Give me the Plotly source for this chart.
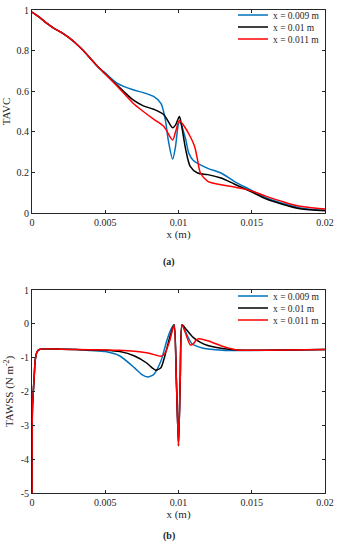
import plotly.graph_objects as go

# ---------------- data: panel (a) TAVC ----------------
tavc_blue_x = [0, 0.0005, 0.001, 0.0015, 0.002, 0.0025, 0.003, 0.0035, 0.004, 0.0045, 0.005,
               0.0058, 0.0069, 0.0076, 0.0083, 0.0088, 0.0091, 0.0093, 0.0096, 0.0098, 0.01, 0.0101,
               0.0105, 0.0107, 0.011, 0.012, 0.0129, 0.0138, 0.0149, 0.016, 0.0172, 0.0183, 0.02]
tavc_blue_y = [0.99, 0.965, 0.935, 0.91, 0.89, 0.865, 0.835, 0.80, 0.76, 0.72, 0.69,
               0.64, 0.607, 0.593, 0.574, 0.54, 0.46, 0.36, 0.266, 0.33, 0.44, 0.45,
               0.36, 0.295, 0.26, 0.22, 0.197, 0.156, 0.115, 0.074, 0.046, 0.025, 0.013]

tavc_black_x = [0, 0.0005, 0.001, 0.0015, 0.002, 0.0025, 0.003, 0.0035, 0.004, 0.0045, 0.005,
                0.0058, 0.0069, 0.0076, 0.0083, 0.009, 0.0096, 0.0098, 0.01006, 0.0102,
                0.0105, 0.0108, 0.0113, 0.012, 0.0129, 0.0138, 0.0149, 0.016, 0.0172, 0.0183, 0.02]
tavc_black_y = [0.99, 0.965, 0.935, 0.91, 0.89, 0.865, 0.835, 0.80, 0.76, 0.72, 0.685,
                0.63, 0.557, 0.528, 0.511, 0.484, 0.42, 0.434, 0.475, 0.434,
                0.31, 0.23, 0.197, 0.189, 0.172, 0.143, 0.107, 0.069, 0.041, 0.021, 0.011]

tavc_red_x = [0, 0.0005, 0.001, 0.0015, 0.002, 0.0025, 0.003, 0.0035, 0.004, 0.0045, 0.005,
              0.0058, 0.0069, 0.0076, 0.0083, 0.009, 0.0096, 0.0098, 0.01006, 0.0104,
              0.0108, 0.0111, 0.0113, 0.0115, 0.012, 0.0129, 0.0138, 0.0149, 0.016, 0.0172, 0.0183, 0.02]
tavc_red_y = [0.99, 0.965, 0.935, 0.91, 0.89, 0.865, 0.835, 0.80, 0.76, 0.72, 0.685,
              0.626, 0.541, 0.50, 0.462, 0.426, 0.36, 0.40, 0.455, 0.426,
              0.377, 0.328, 0.262, 0.197, 0.156, 0.139, 0.128, 0.111, 0.082, 0.054, 0.033, 0.02]

# ---------------- data: panel (b) TAWSS ----------------
wss_blue_x = [0, 0.00003, 0.00015, 0.00022, 0.00035, 0.00055, 0.002, 0.003, 0.004, 0.005, 0.006,
              0.007, 0.0075, 0.0079, 0.0083, 0.0088, 0.0092, 0.0095, 0.0097,
              0.00985, 0.01, 0.01012, 0.01024, 0.0105, 0.0109, 0.0117, 0.013, 0.014, 0.016, 0.018, 0.02]
wss_blue_y = [-5, -2.5, -1.56, -1.07, -0.82, -0.75, -0.75, -0.76, -0.79, -0.82, -0.95,
              -1.3, -1.5, -1.57, -1.5, -1.1, -0.5, -0.15, -0.03,
              -1.6, -3.6, -1.6, -0.03, -0.25, -0.58, -0.72, -0.78, -0.79, -0.78, -0.77, -0.76]

wss_black_x = [0, 0.00003, 0.00015, 0.00022, 0.00035, 0.00055, 0.002, 0.003, 0.005, 0.006,
               0.007, 0.0078, 0.0082, 0.00845, 0.0088, 0.0091, 0.0094, 0.0097,
               0.00985, 0.01, 0.01012, 0.01024, 0.0105, 0.011, 0.0115, 0.012, 0.013, 0.014, 0.016, 0.02]
wss_black_y = [-5, -2.5, -1.56, -1.07, -0.82, -0.75, -0.75, -0.76, -0.78, -0.82,
               -0.95, -1.15, -1.3, -1.37, -1.3, -0.9, -0.4, -0.03,
               -1.6, -3.6, -1.6, -0.03, -0.15, -0.4, -0.55, -0.64, -0.73, -0.77, -0.78, -0.76]

wss_red_x = [0, 0.00003, 0.00015, 0.00022, 0.00035, 0.00055, 0.002, 0.003, 0.005, 0.006,
             0.007, 0.008, 0.0085, 0.0088, 0.0091, 0.0094, 0.0097,
             0.00985, 0.01, 0.01012, 0.01024, 0.0105, 0.0108, 0.0110, 0.0112, 0.0114,
             0.012, 0.013, 0.014, 0.016, 0.02]
wss_red_y = [-5, -2.5, -1.56, -1.07, -0.82, -0.75, -0.75, -0.76, -0.77, -0.78,
             -0.81, -0.87, -0.93, -0.96, -0.85, -0.5, -0.03,
             -1.6, -3.6, -1.6, -0.03, -0.3, -0.62, -0.6, -0.48, -0.44,
             -0.5, -0.66, -0.77, -0.78, -0.76]

series_names = ["x = 0.009 m", "x = 0.01 m", "x = 0.011 m"]
series_colors = ["#0072BD", "#000000", "#FF0000"]

x_tickvals = [0, 0.005, 0.01, 0.015, 0.02]
x_ticktext = ["0", "0.005", "0.01", "0.015", "0.02"]
tavc_tickvals = [0, 0.2, 0.4, 0.6, 0.8, 1]
tavc_ticktext = ["0", "0.2", "0.4", "0.6", "0.8", "1"]
wss_tickvals = [-5, -4, -3, -2, -1, 0, 1]
wss_ticktext = ["-5", "-4", "-3", "-2", "-1", "0", "1"]

FONT = "Liberation Serif, Times New Roman, serif"
TXT = "#262626"

W, H = 338, 550
def py(p):
    return 1 - p / H

fig = go.Figure()

top = [(tavc_blue_x, tavc_blue_y), (tavc_black_x, tavc_black_y), (tavc_red_x, tavc_red_y)]
bot = [(wss_blue_x, wss_blue_y), (wss_black_x, wss_black_y), (wss_red_x, wss_red_y)]

legend_rows_top = [15, 27, 39]
legend_rows_bot = [296, 308, 320]
legend_layout = {}
for i, ((xs, ys), name, col) in enumerate(zip(top, series_names, series_colors)):
    lg = "legend" if i == 0 else f"legend{i + 1}"
    fig.add_trace(go.Scatter(x=xs, y=ys, mode="lines", name=name,
                             line=dict(color=col, width=1.5, shape="spline", smoothing=0.8),
                             xaxis="x", yaxis="y", legend=lg))
    legend_layout[lg] = legend_rows_top[i]
for i, ((xs, ys), name, col) in enumerate(zip(bot, series_names, series_colors)):
    lg = f"legend{i + 4}"
    fig.add_trace(go.Scatter(x=xs, y=ys, mode="lines", name=name,
                             line=dict(color=col, width=1.5, shape="spline", smoothing=0.6),
                             xaxis="x2", yaxis="y2", legend=lg))
    legend_layout[lg] = legend_rows_bot[i]

axis_common = dict(showgrid=False, zeroline=False, showline=True, linecolor="#262626",
                   linewidth=1, mirror="ticks", ticks="inside", ticklen=3, tickcolor="#262626",
                   automargin=False,
                   tickfont=dict(family=FONT, size=10, color=TXT))
title_font = dict(family=FONT, size=11, color=TXT)

fig.update_layout(
    width=W, height=H,
    margin=dict(l=0, r=0, t=0, b=0),
    paper_bgcolor="white", plot_bgcolor="white",
    showlegend=True,
    xaxis=dict(domain=[32 / W, 325 / W], range=[0, 0.02], anchor="y",
               tickvals=x_tickvals, ticktext=x_ticktext,
               title=dict(text="x (m)", font=title_font, standoff=2),
               **axis_common),
    yaxis=dict(domain=[py(213), py(10)], range=[0, 1], anchor="x",
               tickvals=tavc_tickvals, ticktext=tavc_ticktext,
               title=dict(text="TAVC", font=title_font, standoff=4),
               **axis_common),
    xaxis2=dict(domain=[32 / W, 325 / W], range=[0, 0.02], anchor="y2",
                tickvals=x_tickvals, ticktext=x_ticktext,
                title=dict(text="x (m)", font=title_font, standoff=2),
                **axis_common),
    yaxis2=dict(domain=[py(493), py(290)], range=[-5, 1], anchor="x2",
                tickvals=wss_tickvals, ticktext=wss_ticktext,
                title=dict(text="TAWSS (N m<sup>-2</sup>)", font=title_font, standoff=4),
                **axis_common),
    annotations=[
        dict(text="<b>(a)</b>", x=0.5, y=py(262), xref="paper", yref="paper",
             showarrow=False, font=dict(family=FONT, size=10, color=TXT)),
        dict(text="<b>(b)</b>", x=0.5, y=py(544), xref="paper", yref="paper",
             showarrow=False, font=dict(family=FONT, size=10, color=TXT)),
    ],
)

for lg, row in legend_layout.items():
    fig.update_layout({lg: dict(x=233 / W, y=py(row), xanchor="left", yanchor="middle",
                                bgcolor="rgba(255,255,255,0)",
                                font=dict(family=FONT, size=9.5, color=TXT),
                                itemwidth=30)})

fig.write_html("out.html",
               config={"displayModeBar": False},
               post_script="document.body.style.margin='0';document.body.style.overflow='hidden';")
